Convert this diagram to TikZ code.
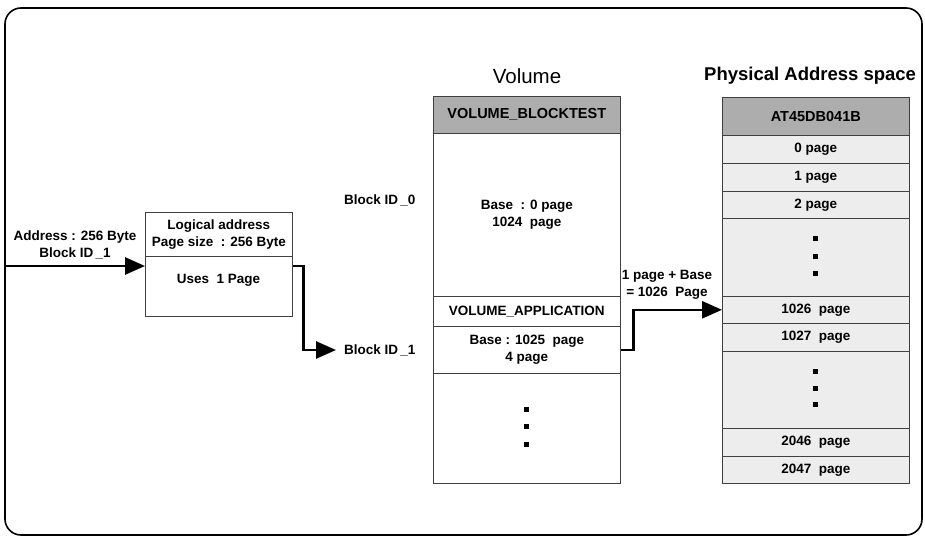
\documentclass[tikz,border=0pt]{standalone}
\usepackage{fontspec}
\setmainfont{Liberation Sans}
\usetikzlibrary{arrows.meta,calc}
\begin{document}
\begin{tikzpicture}[x=1pt,y=-1pt,
  cell/.style={draw=black!75, line width=0.6pt, anchor=north west, inner sep=0pt, minimum width=187pt, align=center, font=\bfseries\fontsize{13.5}{16.5}\selectfont},
  lcell/.style={cell, minimum width=147pt},
  hcell/.style={cell, fill=black!32, font=\bfseries\fontsize{14.5}{16.5}\selectfont},
  pcell/.style={cell, fill=black!7},
  txt/.style={font=\bfseries\fontsize{13.5}{16.5}\selectfont, align=center, inner sep=1pt},
  ttl/.style={font=\fontsize{20.5}{23}\selectfont, inner sep=0pt},
  conn/.style={line width=2.6pt, -{Triangle[length=20pt,width=17pt]}},
  dot/.style={fill=black}
]
\useasboundingbox (0,0) rectangle (925,537);
\draw[rounded corners=16pt, line width=1.6pt] (5,8) rectangle (922,535);

% titles
\node[ttl] (tvol) at (527,76) {Volume};
\node[ttl, font=\bfseries\fontsize{18.5}{22}\selectfont, anchor=west] (tphys) at (704,76) {Physical Address space};

% logical address box
\node[lcell, minimum height=44pt] (lab) at (145,212) {Logical address\\Page size~~: 256 Byte};
\node[lcell, minimum height=60pt] (luse) at (145,256) {};
\node[txt] (lusetxt) at (218.5,280) {Uses~ 1 Page};

% volume column
\node[hcell, minimum height=37pt] (vhead) at (433,96) {VOLUME\_BLOCKTEST};
\node[cell, minimum height=163pt] (vb0) at (433,133) {Base~ : 0 page\\1024~ page};
\node[cell, minimum height=30pt] (vapp) at (433,296) {VOLUME\_APPLICATION};
\node[cell, minimum height=47pt] (vb1) at (433,326) {Base : 1025~ page\\4 page};
\node[cell, minimum height=110pt] (vrest) at (433,373) {};

% physical column
\node[hcell, minimum height=38pt] (phead) at (722,97) {AT45DB041B};
\node[pcell, minimum height=28pt] (p0) at (722,135) {0 page};
\node[pcell, minimum height=28pt] (p1) at (722,163) {1 page};
\node[pcell, minimum height=27pt] (p2) at (722,191) {2 page};
\node[pcell, minimum height=78pt] (pd1) at (722,218) {};
\node[pcell, minimum height=27pt] (p1026) at (722,296) {1026~ page};
\node[pcell, minimum height=28pt] (p1027) at (722,323) {1027~ page};
\node[pcell, minimum height=77pt] (pd2) at (722,351) {};
\node[pcell, minimum height=28pt] (p2046) at (722,428) {2046~ page};
\node[pcell, minimum height=27pt] (p2047) at (722,456) {2047~ page};

% dots
\foreach \y in {409,426,444} \fill[dot] (523.5,\y-2.5) rectangle ++(5,5);
\foreach \y in {238,256,273} \fill[dot] (812.5,\y-2.5) rectangle ++(5,5);
\foreach \y in {371,388,404} \fill[dot] (812.5,\y-2.5) rectangle ++(5,5);

% labels
\node[txt] (addr) at (75,245) {Address : 256 Byte\\Block ID\,\_1};
\node[txt, anchor=west] (bid0) at (343,200) {Block ID\,\_0};
\node[txt, anchor=west] (bid1) at (343,350) {Block ID\,\_1};
\node[txt] (calc) at (667,285) {1 page + Base\\= 1026~ Page};

% connectors
\coordinate (inL) at (6,266);
\draw[conn] (inL) -- (inL -| luse.west);
\draw[conn] (luse.east |- inL) -- ++(11,0) |- ($(bid1.west)+(-7,0)$);
\draw[conn] (vb1.east) -- ++(13,0) |- (p1026.west);
\end{tikzpicture}
\end{document}
